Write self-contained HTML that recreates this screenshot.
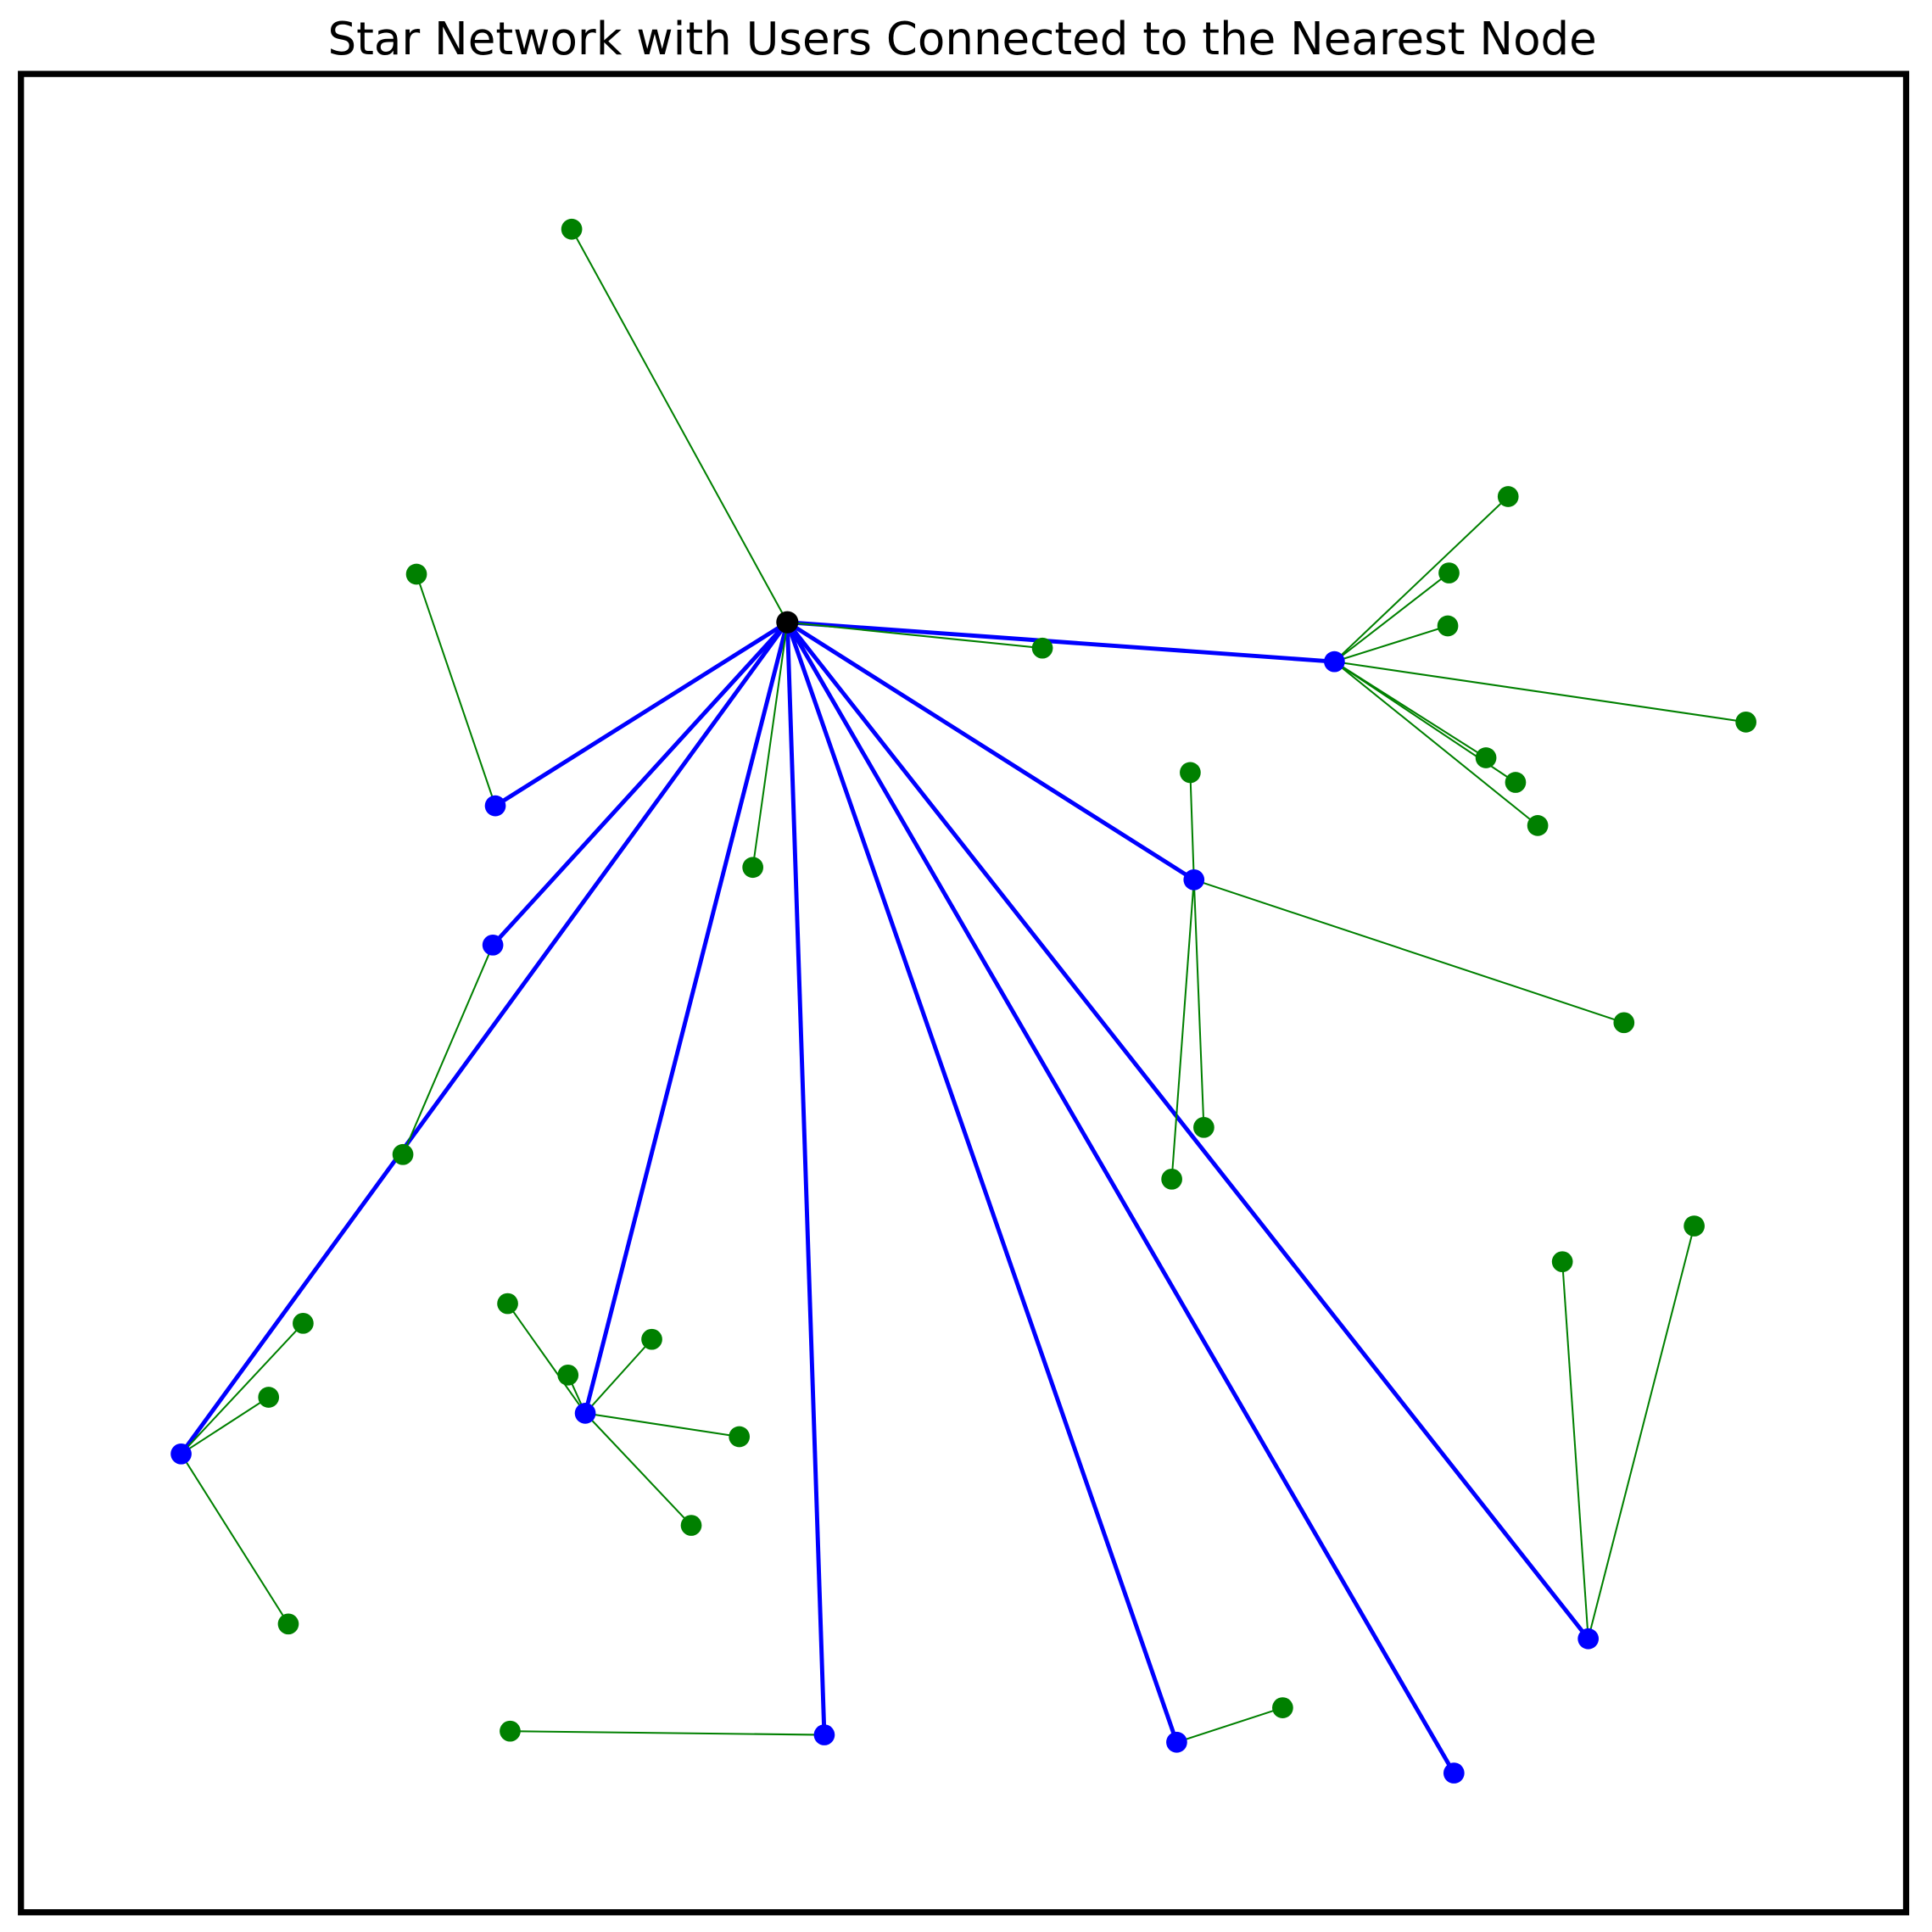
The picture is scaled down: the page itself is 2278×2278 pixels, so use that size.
<!DOCTYPE html>
<html><head><style>html,body{margin:0;padding:0;background:#fff}svg{display:block}</style></head><body>
<svg width="2278" height="2278" viewBox="0 0 1568 1568" xmlns="http://www.w3.org/2000/svg">
<rect x="0" y="0" width="1568" height="1568" fill="#fff"/>
<text x="781" y="44" text-anchor="middle" font-family="DejaVu Sans, Liberation Sans, sans-serif" font-size="36.5">Star Network with Users Connected to the Nearest Node</text>
<rect x="17" y="60" width="1530" height="1492" fill="none" stroke="#000" stroke-width="5"/>
<g stroke="#0000ff" stroke-width="3.4" fill="none">
<line x1="639" y1="505" x2="1083" y2="537"/>
<line x1="639" y1="505" x2="969" y2="714"/>
<line x1="639" y1="505" x2="402" y2="654"/>
<line x1="639" y1="505" x2="400" y2="767"/>
<line x1="639" y1="505" x2="147" y2="1180"/>
<line x1="639" y1="505" x2="475" y2="1147"/>
<line x1="639" y1="505" x2="669" y2="1408"/>
<line x1="639" y1="505" x2="955" y2="1414"/>
<line x1="639" y1="505" x2="1180" y2="1439"/>
<line x1="639" y1="505" x2="1289" y2="1330"/>
</g>
<g stroke="#008000" stroke-width="1.4" fill="none">
<line x1="639" y1="505" x2="464" y2="186"/>
<line x1="639" y1="505" x2="846" y2="526"/>
<line x1="639" y1="505" x2="611" y2="704"/>
<line x1="1083" y1="537" x2="1224" y2="403"/>
<line x1="1083" y1="537" x2="1176" y2="465"/>
<line x1="1083" y1="537" x2="1175" y2="508"/>
<line x1="1083" y1="537" x2="1417" y2="586"/>
<line x1="1083" y1="537" x2="1206" y2="615"/>
<line x1="1083" y1="537" x2="1230" y2="635"/>
<line x1="1083" y1="537" x2="1248" y2="670"/>
<line x1="969" y1="714" x2="966" y2="627"/>
<line x1="969" y1="714" x2="1318" y2="830"/>
<line x1="969" y1="714" x2="977" y2="915"/>
<line x1="969" y1="714" x2="951" y2="957"/>
<line x1="402" y1="654" x2="338" y2="466"/>
<line x1="400" y1="767" x2="327" y2="937"/>
<line x1="147" y1="1180" x2="246" y2="1074"/>
<line x1="147" y1="1180" x2="218" y2="1134"/>
<line x1="147" y1="1180" x2="234" y2="1318"/>
<line x1="475" y1="1147" x2="412" y2="1058"/>
<line x1="475" y1="1147" x2="461" y2="1116"/>
<line x1="475" y1="1147" x2="529" y2="1087"/>
<line x1="475" y1="1147" x2="600" y2="1166"/>
<line x1="475" y1="1147" x2="561" y2="1238"/>
<line x1="669" y1="1408" x2="414" y2="1405"/>
<line x1="955" y1="1414" x2="1041" y2="1386"/>
<line x1="1289" y1="1330" x2="1268" y2="1024"/>
<line x1="1289" y1="1330" x2="1375" y2="995"/>
</g>
<g fill="#008000">
<circle cx="464" cy="186" r="8.5"/><circle cx="846" cy="526" r="8.5"/><circle cx="611" cy="704" r="8.5"/>
<circle cx="1224" cy="403" r="8.5"/><circle cx="1176" cy="465" r="8.5"/><circle cx="1175" cy="508" r="8.5"/>
<circle cx="1417" cy="586" r="8.5"/><circle cx="1206" cy="615" r="8.5"/><circle cx="1230" cy="635" r="8.5"/>
<circle cx="1248" cy="670" r="8.5"/><circle cx="966" cy="627" r="8.5"/><circle cx="1318" cy="830" r="8.5"/>
<circle cx="977" cy="915" r="8.5"/><circle cx="951" cy="957" r="8.5"/><circle cx="338" cy="466" r="8.5"/>
<circle cx="327" cy="937" r="8.5"/><circle cx="246" cy="1074" r="8.5"/><circle cx="218" cy="1134" r="8.5"/>
<circle cx="234" cy="1318" r="8.5"/><circle cx="412" cy="1058" r="8.5"/><circle cx="461" cy="1116" r="8.5"/>
<circle cx="529" cy="1087" r="8.5"/><circle cx="600" cy="1166" r="8.5"/><circle cx="561" cy="1238" r="8.5"/>
<circle cx="414" cy="1405" r="8.5"/><circle cx="1041" cy="1386" r="8.5"/><circle cx="1268" cy="1024" r="8.5"/>
<circle cx="1375" cy="995" r="8.5"/>
</g>
<g fill="#0000ff">
<circle cx="1083" cy="537" r="8.5"/><circle cx="969" cy="714" r="8.5"/><circle cx="402" cy="654" r="8.5"/>
<circle cx="400" cy="767" r="8.5"/><circle cx="147" cy="1180" r="8.5"/><circle cx="475" cy="1147" r="8.5"/>
<circle cx="669" cy="1408" r="8.5"/><circle cx="955" cy="1414" r="8.5"/><circle cx="1180" cy="1439" r="8.5"/>
<circle cx="1289" cy="1330" r="8.5"/>
</g>
<circle cx="639" cy="505" r="9" fill="#000"/>
</svg>
</body></html>
